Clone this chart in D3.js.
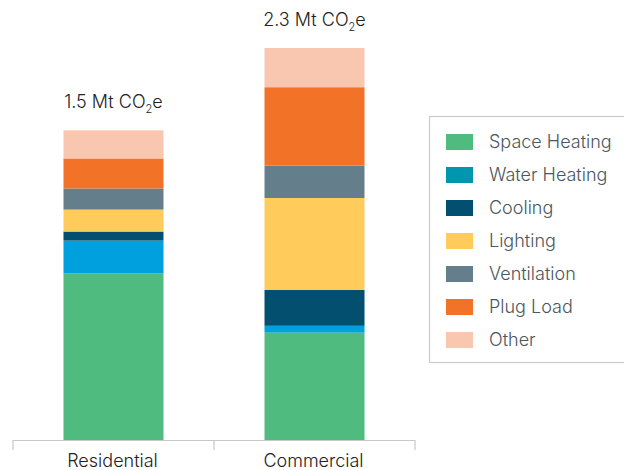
<!DOCTYPE html>
<html>
<head>
<meta charset="utf-8">
<script src="https://cdn.jsdelivr.net/npm/d3@7"></script>
<style>
  html, body { margin: 0; padding: 0; background: #fff; }
  svg { display: block; font-family: Inter, "Noto Sans", sans-serif; font-weight: 300; }
</style>
</head>
<body>
<svg id="chart" width="624" height="470"></svg>
<script>
// ---- data (segment values as drawn, in Mt-equivalent of the drawn scale) ----
const categories = ["Residential", "Commercial"];
const totalLabels = ["1.5", "2.3"];
const seriesNames = ["Space Heating", "Water Heating", "Cooling", "Lighting", "Ventilation", "Plug Load", "Other"];
const residential = [0.978, 0.192, 0.053, 0.129, 0.124, 0.176, 0.165];
const commercial  = [0.630, 0.040, 0.210, 0.540, 0.190, 0.460, 0.230];
const barColors    = ["#4FBB7F", "#009FDD", "#024F70", "#FFCC5C", "#647E8B", "#F27228", "#F9C6B0"];
const legendColors = ["#4FBB7F", "#0096B0", "#024F70", "#FFCC5C", "#647E8B", "#F27228", "#F9C6B0"];

const svg = d3.select("#chart");

// table for stacking
const table = categories.map((c, i) => {
  const row = { category: c };
  const vals = i === 0 ? residential : commercial;
  seriesNames.forEach((s, j) => row[s] = vals[j]);
  return row;
});
const stacked = d3.stack().keys(seriesNames)(table);

const x = d3.scaleBand().domain(categories).range([13, 415]).paddingInner(0.5025).paddingOuter(0.2512);
const xAxisScale = d3.scaleBand().domain(categories).range([13, 415]).padding(0);
const y = d3.scaleLinear().domain([0, 2.3]).range([440, 48]);

// bars
svg.append("g").selectAll("g")
  .data(stacked)
  .join("g")
  .attr("fill", (d, i) => barColors[i])
  .selectAll("rect")
  .data(d => d)
  .join("rect")
  .attr("x", d => x(d.data.category))
  .attr("width", x.bandwidth())
  .attr("y", d => y(d[1]))
  .attr("height", d => y(d[0]) - y(d[1]));

// axis: line with ticks at band boundaries
const axisG = svg.append("g").attr("stroke", "#c8c8c8").attr("stroke-width", 1.2).attr("fill", "none");
const r = xAxisScale.range();
axisG.append("line").attr("x1", r[0]).attr("x2", r[1]).attr("y1", y(0) + 0.5).attr("y2", y(0) + 0.5);
const bounds = categories.map(c => xAxisScale(c)).concat([r[1]]);
axisG.selectAll("line.tick").data(bounds).join("line").attr("class", "tick")
  .attr("x1", d => d).attr("x2", d => d).attr("y1", y(0)).attr("y2", y(0) + 10);

// category labels
svg.append("g").selectAll("text")
  .data(categories)
  .join("text")
  .attr("x", d => xAxisScale(d) + xAxisScale.bandwidth() / 2 - 1)
  .attr("y", 467)
  .attr("text-anchor", "middle")
  .attr("font-size", 18)
  .attr("fill", "#222")
  .text(d => d);

// total labels
const totals = table.map(row => d3.sum(seriesNames, s => row[s]));
const tl = svg.append("g").selectAll("text")
  .data(categories)
  .join("text")
  .attr("x", d => x(d) + x.bandwidth() / 2)
  .attr("y", (d, i) => y(totals[i]) - 22)
  .attr("text-anchor", "middle")
  .attr("font-size", 18)
  .attr("fill", "#222");
tl.append("tspan").text((d, i) => totalLabels[i] + " Mt CO");
tl.append("tspan").attr("font-size", 11).attr("dy", 5).text("2");
tl.append("tspan").attr("dy", -5).text("e");

// legend
const legend = svg.append("g");
legend.append("rect")
  .attr("x", 429.5).attr("y", 116.5).attr("width", 220).attr("height", 246)
  .attr("fill", "none").attr("stroke", "#cccccc").attr("stroke-width", 1.2);
const ly = d3.scalePoint().domain(seriesNames).range([134, 332]);
const items = legend.selectAll("g.item").data(seriesNames).join("g").attr("class", "item")
  .attr("transform", d => `translate(446,${ly(d)})`);
items.append("rect").attr("width", 27).attr("height", 16).attr("fill", (d, i) => legendColors[i]);
items.append("text").attr("x", 43).attr("y", 8).attr("dy", "0.35em")
  .attr("font-size", 18).attr("fill", "#4a5660").text(d => d);
</script>
</body>
</html>
